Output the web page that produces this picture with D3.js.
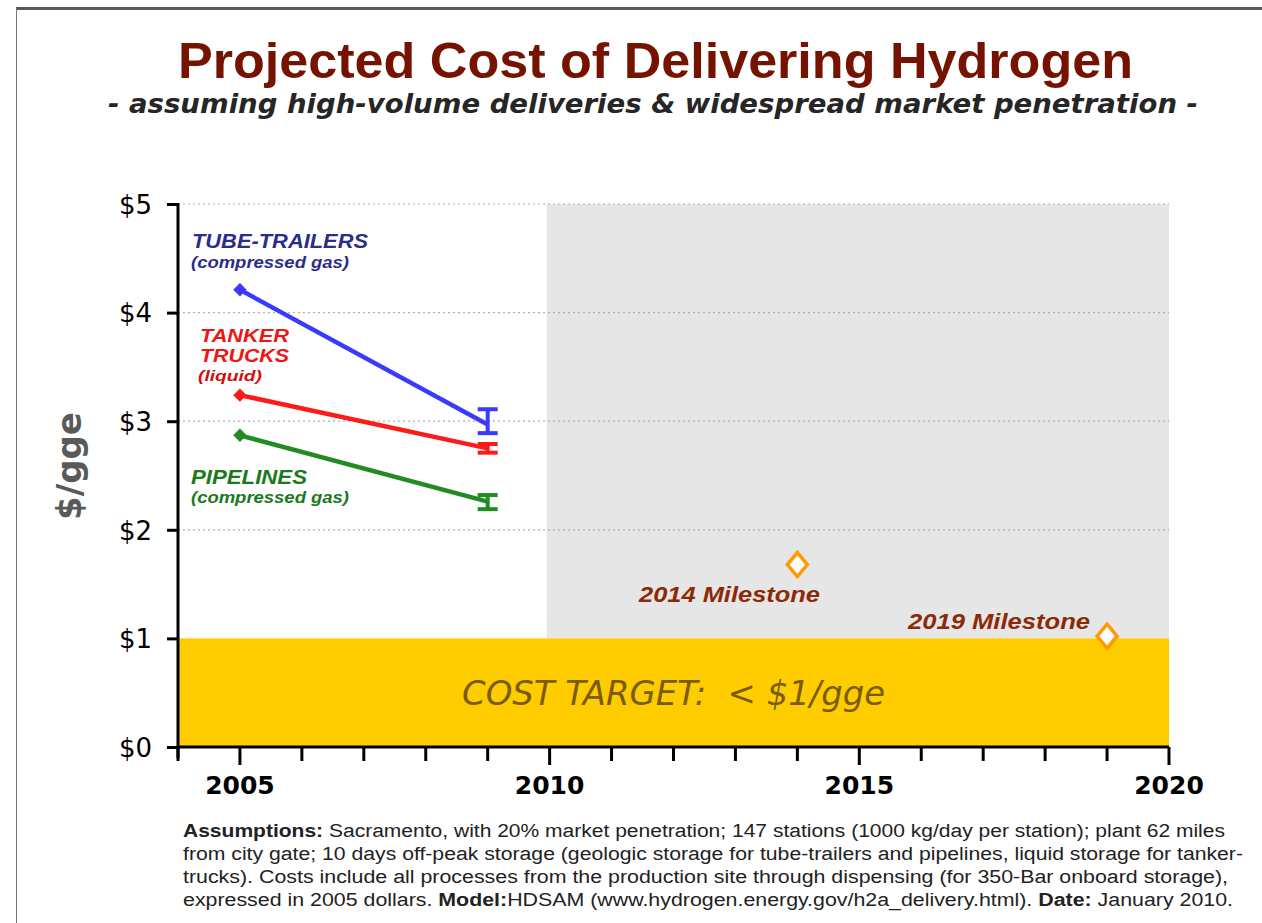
<!DOCTYPE html>
<html lang="en">
<head>
<meta charset="utf-8">
<style>
  body { margin: 0; background: #fff; }
  svg { display: block; }
</style>
</head>
<body>
<script src="https://d3js.org/d3.v7.min.js"></script>
<script>
// ---- data ----
var years = [2005, 2009];
var tubeTrailers = [4.21, 2.97];
var tankerTrucks = [3.24, 2.75];
var pipelines = [2.87, 2.26];
var errLow = [2.89, 2.71, 2.19];
var errHigh = [3.11, 2.79, 2.32];
var milestoneYears = [2014, 2019];
var milestoneCosts = [1.68, 1.02];
var milestoneLabels = ["2014 Milestone", "2019 Milestone"];
var yTicks = [0, 1, 2, 3, 4, 5];
var yTickLabels = ["$0", "$1", "$2", "$3", "$4", "$5"];
var gridValues = [2, 3, 4, 5];
var xMajor = [2005, 2010, 2015, 2020];
var costTarget = 1;
var futureStart = 2010;

var width = 1262, height = 923;

var svg = d3.select("body").append("svg")
    .attr("width", width)
    .attr("height", height);

// frame
svg.append("rect").attr("x", 16).attr("y", 7).attr("width", width).attr("height", 3).attr("fill", "#5a5a5a");
svg.append("line").attr("x1", 16.5).attr("x2", 16.5).attr("y1", 8).attr("y2", height).attr("stroke", "#777").attr("stroke-width", 1);

// titles
svg.append("text")
    .attr("x", 178).attr("y", 78)
    .attr("textLength", 955).attr("lengthAdjust", "spacingAndGlyphs")
    .style("font-family", "'Liberation Sans Narrow', 'Liberation Sans', sans-serif")
    .style("font-weight", "bold").style("font-size", "50px")
    .attr("fill", "#761200")
    .text("Projected Cost of Delivering Hydrogen");

svg.append("text")
    .attr("x", 108).attr("y", 113)
    .attr("textLength", 1090).attr("lengthAdjust", "spacingAndGlyphs")
    .style("font-family", "'DejaVu Sans', sans-serif")
    .style("font-weight", "bold").style("font-style", "italic").style("font-size", "26px")
    .attr("fill", "#262626")
    .text("- assuming high-volume deliveries & widespread market penetration -");

// scales
var x = d3.scaleLinear().domain([2004, 2020]).range([178, 1169]);
var y = d3.scaleLinear().domain([0, 5]).range([747, 204]);

// future (grey) area and cost target band
svg.append("rect")
    .attr("x", x(futureStart) - 3).attr("y", y(5))
    .attr("width", x(2020) - x(futureStart) + 3).attr("height", y(costTarget) - y(5))
    .attr("fill", "#e6e6e6");

svg.append("rect")
    .attr("x", x(2004)).attr("y", y(costTarget))
    .attr("width", x(2020) - x(2004)).attr("height", y(0) - y(costTarget))
    .attr("fill", "#ffcc00");

// dotted grid
svg.selectAll(".grid").data(gridValues).enter().append("line")
    .attr("class", "grid")
    .attr("x1", x(2004)).attr("x2", x(2020))
    .attr("y1", function (d) { return y(d); })
    .attr("y2", function (d) { return y(d); })
    .attr("stroke", "#b0b0b0").attr("stroke-width", 1.2)
    .attr("stroke-dasharray", "2,3");

svg.append("text")
    .attr("x", 462).attr("y", 705)
    .attr("textLength", 423).attr("lengthAdjust", "spacingAndGlyphs")
    .style("white-space", "pre")
    .style("font-family", "'DejaVu Sans', sans-serif")
    .style("font-style", "italic").style("font-size", "34px")
    .attr("fill", "#7a5c00")
    .text("COST TARGET:  < $1/gge");

// y axis
var yAxis = d3.axisLeft(y).tickValues(yTicks).tickSize(11)
    .tickFormat(function (d, i) { return yTickLabels[i]; });
var gy = svg.append("g").attr("transform", "translate(" + x(2004) + ",0)").call(yAxis);
gy.select(".domain").attr("d", "M0," + (y(5) - 1) + "V" + (y(0) + 11)).attr("stroke-width", 3).attr("stroke", "#000");
gy.selectAll(".tick line").attr("stroke-width", 3).attr("stroke", "#000");
gy.selectAll(".tick text")
    .attr("x", -26).attr("dy", "0.36em")
    .style("font-family", "'DejaVu Sans', sans-serif").style("font-size", "26px")
    .attr("fill", "#000");

svg.append("text")
    .attr("transform", "translate(81,466) rotate(-90)")
    .attr("text-anchor", "middle")
    .style("font-family", "'DejaVu Sans', sans-serif")
    .style("font-weight", "bold").style("font-size", "34px")
    .attr("fill", "#595959")
    .text("$/gge");

// x axis: minor and major ticks
var gx = svg.append("g").attr("transform", "translate(0," + y(0) + ")");
gx.append("line").attr("x1", x(2004)).attr("x2", x(2020)).attr("stroke", "#000").attr("stroke-width", 3);
gx.selectAll(".minor").data(d3.range(2004, 2021)).enter().append("line")
    .attr("x1", function (d) { return x(d); }).attr("x2", function (d) { return x(d); })
    .attr("y1", 0)
    .attr("y2", function (d) { return xMajor.indexOf(d) >= 0 ? 18 : 14; })
    .attr("stroke", "#000").attr("stroke-width", 3);
gx.selectAll(".xlab").data(xMajor).enter().append("text")
    .attr("x", function (d) { return x(d); }).attr("y", 47)
    .attr("text-anchor", "middle")
    .style("font-family", "'DejaVu Sans', sans-serif")
    .style("font-weight", "bold").style("font-size", "25px")
    .attr("fill", "#000")
    .text(function (d) { return d; });

// series
var series = [
    { values: tubeTrailers, color: "#3a3aff" },
    { values: tankerTrucks, color: "#ff1a1a" },
    { values: pipelines, color: "#238b23" }
];
var line = d3.line()
    .x(function (d, i) { return x(years[i]); })
    .y(function (d) { return y(d); });

series.forEach(function (s, k) {
    svg.append("path").datum(s.values)
        .attr("d", line)
        .attr("fill", "none").attr("stroke", s.color).attr("stroke-width", 4.5);
    svg.append("path")
        .attr("d", d3.symbol(d3.symbolSquare, 90)())
        .attr("transform", "translate(" + x(years[0]) + "," + y(s.values[0]) + ") rotate(45)")
        .attr("fill", s.color);
    // error bar at the later year
    var ex = x(years[1]);
    var eb = svg.append("g").attr("stroke", s.color).attr("stroke-width", 4).attr("fill", "none");
    eb.append("line").attr("x1", ex).attr("x2", ex).attr("y1", y(errHigh[k])).attr("y2", y(errLow[k]));
    eb.append("line").attr("x1", ex - 10).attr("x2", ex + 10).attr("y1", y(errHigh[k])).attr("y2", y(errHigh[k]));
    eb.append("line").attr("x1", ex - 10).attr("x2", ex + 10).attr("y1", y(errLow[k])).attr("y2", y(errLow[k]));
});

// series labels
function label(txt, lx, ly, size, color, len) {
    var t = svg.append("text")
        .attr("x", lx).attr("y", ly)
        .style("font-family", "'Liberation Sans', Arial, sans-serif")
        .style("font-weight", "bold").style("font-style", "italic").style("font-size", size + "px")
        .attr("fill", color)
        .text(txt);
    if (len) t.attr("textLength", len).attr("lengthAdjust", "spacingAndGlyphs");
    return t;
}
label("TUBE-TRAILERS", 192, 248, 20, "#2b2d8c", 176);
label("(compressed gas)", 191, 268, 16, "#2b2d8c", 158);
label("TANKER", 200, 342, 19, "#f01414", 89);
label("TRUCKS", 200, 362, 19, "#f01414", 89);
label("(liquid)", 198, 381, 15, "#d01010", 64);
label("PIPELINES", 191, 484, 20, "#1a7a1a", 116);
label("(compressed gas)", 191, 503, 16, "#1a7a1a", 158);

// milestones
var diamond = function (cx, cy) {
    return "M" + cx + "," + (cy - 12) + "L" + (cx + 10) + "," + cy + "L" + cx + "," + (cy + 12) + "L" + (cx - 10) + "," + cy + "Z";
};
svg.selectAll(".milestone").data(milestoneYears).enter().append("path")
    .attr("class", "milestone")
    .attr("d", function (d, i) { return diamond(x(d), y(milestoneCosts[i])); })
    .attr("fill", "#fff").attr("stroke", "#ff9a00").attr("stroke-width", 3.5);

label(milestoneLabels[0], 639, 602, 22, "#8c2a08", 181);
label(milestoneLabels[1], 908, 629, 22, "#8c2a08", 182);

// footnote
var notes = [
    { parts: [["Assumptions:", true], [" Sacramento, with 20% market penetration; 147 stations (1000 kg/day per station); plant 62 miles", false]], len: 1042 },
    { parts: [["from city gate; 10 days off-peak storage (geologic storage for tube-trailers and pipelines, liquid storage for tanker-", false]], len: 1060 },
    { parts: [["trucks). Costs include all processes from the production site through dispensing (for 350-Bar onboard storage),", false]], len: 1045 },
    { parts: [["expressed in 2005 dollars. ", false], ["Model:", true], ["HDSAM (www.hydrogen.energy.gov/h2a_delivery.html). ", false], ["Date:", true], [" January 2010.", false]], len: 1050 }
];
notes.forEach(function (n, i) {
    var t = svg.append("text")
        .attr("x", 183).attr("y", 837 + i * 23)
        .attr("textLength", n.len).attr("lengthAdjust", "spacingAndGlyphs")
        .style("font-family", "'Liberation Sans Narrow', 'Liberation Sans', sans-serif")
        .style("font-size", "18px")
        .attr("fill", "#222");
    n.parts.forEach(function (p) {
        t.append("tspan").style("font-weight", p[1] ? "bold" : "normal").text(p[0]);
    });
});
</script>
</body>
</html>
